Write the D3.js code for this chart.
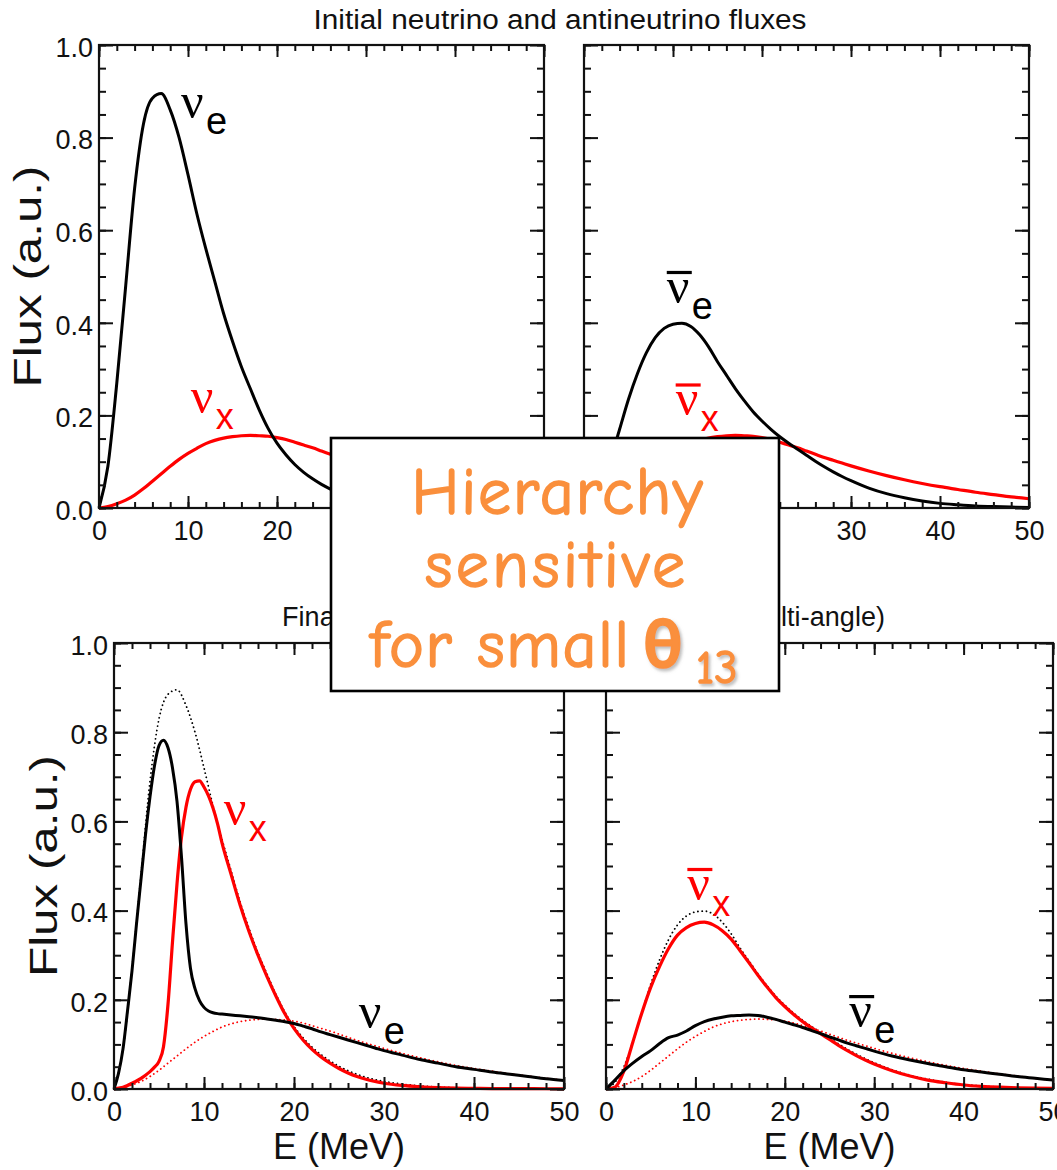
<!DOCTYPE html>
<html>
<head>
<meta charset="utf-8">
<script src="https://cdn.jsdelivr.net/npm/d3@7"></script>
<style>
  html, body { margin: 0; padding: 0; background: #fff; }
  svg { display: block; }
</style>
</head>
<body>
<script>
// Energy grids (MeV)
const energyCoarse = [0,1,2,3,4,5,6,7,8,9,10,11,12,13,14,15,16,17,18,19,20,21,22,23,24,25,26,27,28,29,30,32,34,36,38,40,42,44,46,48,50];
const energyFine = [0,0.5,1,1.5,2,2.5,3,3.5,4,4.5,5,5.5,6,6.5,7,7.5,8,8.5,9,9.5,10,10.5,11,11.5,12,13,14,15,16,17,18,19,20,21,22,23,24,25,26,27,28,29,30,32,34,36,38,40,42,44,46,48,50];

// Initial fluxes (arbitrary units), on energyCoarse
const initNuE = [0,0.09,0.27,0.48,0.69,0.83,0.885,0.895,0.86,0.80,0.72,0.635,0.56,0.49,0.42,0.36,0.305,0.258,0.212,0.172,0.14,0.115,0.094,0.077,0.063,0.051,0.041,0.033,0.026,0.021,0.017,0.011,0.007,0.0045,0.003,0.002,0.0012,0.0008,0.0005,0.0003,0.0002];
const initNuX = [0,0.003,0.009,0.017,0.028,0.042,0.058,0.074,0.09,0.105,0.118,0.129,0.139,0.146,0.151,0.154,0.156,0.157,0.156,0.155,0.152,0.148,0.142,0.136,0.13,0.123,0.116,0.109,0.103,0.097,0.091,0.08,0.07,0.061,0.053,0.046,0.04,0.034,0.029,0.024,0.02];
const initAntiNuE = [0,0.015,0.05,0.105,0.17,0.235,0.29,0.335,0.368,0.388,0.397,0.399,0.392,0.374,0.348,0.316,0.287,0.258,0.232,0.208,0.188,0.17,0.154,0.14,0.127,0.114,0.101,0.089,0.078,0.068,0.059,0.043,0.031,0.022,0.015,0.01,0.007,0.0045,0.003,0.002,0.0013];

// Final neutrino fluxes, on energyFine
const finalNuE = [0,0.035,0.09,0.175,0.265,0.37,0.47,0.57,0.655,0.725,0.77,0.782,0.765,0.72,0.645,0.52,0.37,0.27,0.225,0.198,0.183,0.175,0.171,0.169,0.168,0.166,0.164,0.162,0.16,0.157,0.154,0.151,0.147,0.141,0.135,0.128,0.122,0.116,0.11,0.104,0.098,0.092,0.086,0.076,0.066,0.058,0.05,0.044,0.038,0.033,0.028,0.023,0.019];
const finalNuX = [0,0.002,0.004,0.008,0.013,0.018,0.024,0.031,0.039,0.049,0.062,0.095,0.19,0.33,0.46,0.565,0.632,0.672,0.689,0.691,0.677,0.657,0.63,0.595,0.552,0.482,0.413,0.353,0.3,0.252,0.208,0.168,0.136,0.11,0.089,0.072,0.058,0.046,0.036,0.028,0.022,0.017,0.013,0.008,0.005,0.003,0.002,0.0015,0.001,0.001,0.0008,0.0006,0.0005];

// Final antineutrino fluxes, on energyCoarse
const finalAntiNuX = [0,0.004,0.04,0.105,0.17,0.228,0.275,0.315,0.345,0.362,0.371,0.374,0.368,0.355,0.336,0.31,0.283,0.255,0.229,0.205,0.185,0.167,0.151,0.137,0.124,0.111,0.098,0.086,0.075,0.065,0.056,0.041,0.029,0.02,0.014,0.009,0.006,0.004,0.0027,0.0018,0.0012];
const finalAntiNuE = [0,0.02,0.041,0.058,0.073,0.086,0.102,0.115,0.121,0.13,0.142,0.151,0.157,0.161,0.164,0.165,0.166,0.165,0.161,0.156,0.15,0.144,0.138,0.131,0.124,0.117,0.11,0.103,0.097,0.091,0.085,0.074,0.065,0.057,0.05,0.043,0.038,0.033,0.028,0.024,0.02];

// Axis ticks
const xMajorTicks = [0,10,20,30,40,50];
const xMinorTicks = d3.range(0, 51, 2);
const yMajorTicks = [0,0.2,0.4,0.6,0.8,1.0];
const yMinorTicks = d3.range(0, 1.0001, 0.05);

const W = 1057, H = 1170;
const RED = "#ff0000";
const INK = "#111";
const SANS = "'Liberation Sans', Arial, Helvetica, sans-serif";

// callout box laid over the middle of the figure
const box = { x: 331, y: 438, w: 448, h: 253 };
const insideBox = (px, py) => px > box.x && px < box.x + box.w && py > box.y && py < box.y + box.h;

const svg = d3.select("body").append("svg")
  .attr("width", W).attr("height", H)
  .attr("viewBox", `0 0 ${W} ${H}`);

svg.append("rect").attr("width", W).attr("height", H).attr("fill", "#fff");

const defs = svg.append("defs");
const shadow = defs.append("filter").attr("id", "softShadow")
  .attr("x", "-20%").attr("y", "-20%").attr("width", "150%").attr("height", "150%");
shadow.append("feDropShadow").attr("dx", 2).attr("dy", 2.5)
  .attr("stdDeviation", 1.5).attr("flood-color", "#888").attr("flood-opacity", 0.55);

const zip = (es, vs) => es.map((E, i) => ({ E, v: vs[i] }));

// Panel frames in page pixels
const panels = {
  tl: { x0: 99,  x1: 544,  y0: 45,  y1: 508,  yLabels: true },
  tr: { x0: 584, x1: 1029, y0: 45,  y1: 508,  yLabels: false },
  bl: { x0: 114, x1: 564,  y0: 643, y1: 1089, yLabels: true },
  br: { x0: 606, x1: 1053, y0: 643, y1: 1089, yLabels: false }
};

const series = {
  tl: [
    { data: zip(energyCoarse, initNuX), color: RED, width: 3.2 },
    { data: zip(energyCoarse, initNuE), color: "#000", width: 3 }
  ],
  tr: [
    { data: zip(energyCoarse, initNuX), color: RED, width: 3.2 },
    { data: zip(energyCoarse, initAntiNuE), color: "#000", width: 3 }
  ],
  bl: [
    { data: zip(energyCoarse, initNuE), color: "#000", width: 1.8, dotted: true },
    { data: zip(energyCoarse, initNuX), color: RED, width: 1.8, dotted: true },
    { data: zip(energyFine, finalNuX), color: RED, width: 3.2 },
    { data: zip(energyFine, finalNuE), color: "#000", width: 3 }
  ],
  br: [
    { data: zip(energyCoarse, initAntiNuE), color: "#000", width: 1.8, dotted: true },
    { data: zip(energyCoarse, initNuX), color: RED, width: 1.8, dotted: true },
    { data: zip(energyCoarse, finalAntiNuX), color: RED, width: 3.2 },
    { data: zip(energyCoarse, finalAntiNuE), color: "#000", width: 3 }
  ]
};

// Flavour labels anchored in data units (E, flux)
const labels = {
  tl: [ { E: 9.2, f: 0.842, sub: "e", color: "#000", bar: false },
        { E: 10.3, f: 0.205, sub: "x", color: RED, bar: false } ],
  tr: [ { E: 9.3, f: 0.443, sub: "e", color: "#000", bar: true },
        { E: 10.3, f: 0.200, sub: "x", color: RED, bar: true } ],
  bl: [ { E: 12.2, f: 0.592, sub: "x", color: RED, bar: false },
        { E: 27.2, f: 0.137, sub: "e", color: "#000", bar: false } ],
  br: [ { E: 9.1, f: 0.424, sub: "x", color: RED, bar: true },
        { E: 27.2, f: 0.139, sub: "e", color: "#000", bar: true } ]
};

Object.entries(panels).forEach(([key, p]) => {
  const x = d3.scaleLinear().domain([0, 50]).range([p.x0, p.x1]);
  const y = d3.scaleLinear().domain([0, 1]).range([p.y1, p.y0]);
  const g = svg.append("g").attr("class", "panel-" + key);

  // curves
  const line = d3.line().x(d => x(d.E)).y(d => y(d.v)).curve(d3.curveMonotoneX);
  series[key].forEach(s => {
    g.append("path")
      .attr("d", line(s.data))
      .attr("fill", "none")
      .attr("stroke", s.color)
      .attr("stroke-width", s.width)
      .attr("stroke-linejoin", "round")
      .attr("stroke-linecap", s.dotted ? "round" : "butt")
      .attr("stroke-dasharray", s.dotted ? "0.1 4.2" : null);
  });

  // ticks (pointing inward on all four sides)
  const axisStyle = sel => {
    sel.select(".domain").remove();
    sel.selectAll(".tick line").attr("stroke", INK).attr("stroke-width", 2);
  };
  const bottomMinor = g.append("g").attr("transform", `translate(0,${p.y1})`)
    .call(d3.axisBottom(x).tickValues(xMinorTicks).tickSize(-6).tickFormat(""));
  axisStyle(bottomMinor);
  const bottomMajor = g.append("g").attr("transform", `translate(0,${p.y1})`)
    .call(d3.axisBottom(x).tickValues(xMajorTicks).tickSize(-12).tickPadding(13).tickFormat(d3.format("d")));
  axisStyle(bottomMajor);
  bottomMajor.selectAll("text")
    .attr("font-size", 27).attr("font-family", SANS).attr("fill", INK);
  // tick labels that sit beneath the callout box are not drawn
  bottomMajor.selectAll(".tick text").filter(d => insideBox(x(d), p.y1 + 22)).remove();

  const topMinor = g.append("g").attr("transform", `translate(0,${p.y0})`)
    .call(d3.axisTop(x).tickValues(xMinorTicks).tickSize(-6).tickFormat(""));
  axisStyle(topMinor);
  const topMajor = g.append("g").attr("transform", `translate(0,${p.y0})`)
    .call(d3.axisTop(x).tickValues(xMajorTicks).tickSize(-12).tickFormat(""));
  axisStyle(topMajor);

  const leftMinor = g.append("g").attr("transform", `translate(${p.x0},0)`)
    .call(d3.axisLeft(y).tickValues(yMinorTicks).tickSize(-7).tickFormat(""));
  axisStyle(leftMinor);
  const leftMajor = g.append("g").attr("transform", `translate(${p.x0},0)`)
    .call(d3.axisLeft(y).tickValues(yMajorTicks).tickSize(-14).tickPadding(6)
      .tickFormat(p.yLabels ? d3.format(".1f") : ""));
  axisStyle(leftMajor);
  leftMajor.selectAll("text")
    .attr("font-size", 27).attr("font-family", SANS).attr("fill", INK).attr("dy", "0.42em");

  const rightMinor = g.append("g").attr("transform", `translate(${p.x1},0)`)
    .call(d3.axisRight(y).tickValues(yMinorTicks).tickSize(-7).tickFormat(""));
  axisStyle(rightMinor);
  const rightMajor = g.append("g").attr("transform", `translate(${p.x1},0)`)
    .call(d3.axisRight(y).tickValues(yMajorTicks).tickSize(-14).tickFormat(""));
  axisStyle(rightMajor);

  // frame
  g.append("rect")
    .attr("x", p.x0).attr("y", p.y0)
    .attr("width", p.x1 - p.x0).attr("height", p.y1 - p.y0)
    .attr("fill", "none").attr("stroke", INK).attr("stroke-width", 2.2);

  // flavour labels
  labels[key].forEach(l => {
    const lx = x(l.E), ly = y(l.f);
    const lg = g.append("g").attr("fill", l.color);
    lg.append("text").attr("x", lx).attr("y", ly)
      .attr("font-family", "'Liberation Serif', 'Times New Roman', serif")
      .attr("font-size", 50).text("ν");
    lg.append("text").attr("x", lx + 25).attr("y", ly + 16)
      .attr("font-family", SANS)
      .attr("font-size", l.sub === "e" ? 38 : 36).text(l.sub);
    if (l.bar) {
      lg.append("rect").attr("x", lx).attr("y", ly - 32)
        .attr("width", 25).attr("height", 3.2);
    }
  });
});

// axis titles
const yTitle = (key, xPos) => {
  const p = panels[key];
  svg.append("text")
    .attr("transform", `translate(${xPos},${(p.y0 + p.y1) / 2}) rotate(-90)`)
    .attr("text-anchor", "middle")
    .attr("font-family", SANS).attr("font-size", 38).attr("fill", INK)
    .attr("textLength", 222).attr("lengthAdjust", "spacingAndGlyphs")
    .text("Flux (a.u.)");
};
yTitle("tl", 41);
yTitle("bl", 57);

["bl", "br"].forEach(key => {
  const p = panels[key];
  svg.append("text")
    .attr("x", (p.x0 + p.x1) / 2).attr("y", 1159)
    .attr("text-anchor", "middle")
    .attr("font-family", SANS).attr("font-size", 36).attr("fill", INK)
    .text("E (MeV)");
});

// row titles
svg.append("text")
  .attr("x", 560).attr("y", 29)
  .attr("text-anchor", "middle")
  .attr("font-family", SANS).attr("font-size", 27).attr("fill", INK)
  .attr("textLength", 493).attr("lengthAdjust", "spacingAndGlyphs")
  .text("Initial neutrino and antineutrino fluxes");

svg.append("text")
  .attr("x", (panels.bl.x0 + panels.br.x1) / 2).attr("y", 626)
  .attr("text-anchor", "middle")
  .attr("font-family", SANS).attr("font-size", 27).attr("fill", INK)
  .attr("textLength", 603)
  .text("Final neutrino and antineutrino fluxes (multi-angle)");

// callout
const ORANGE = "#fa8f3c";
const HAND = "'Comic Sans MS', 'Comic Neue', Lato, 'Open Sans', sans-serif";
svg.append("rect")
  .attr("x", box.x).attr("y", box.y).attr("width", box.w).attr("height", box.h)
  .attr("fill", "#fff").attr("stroke", "#000").attr("stroke-width", 2.6);

const handText = (sel) => sel
  .attr("font-family", HAND)
  .attr("fill", ORANGE)
  .attr("stroke", ORANGE).attr("stroke-width", 1.6).attr("stroke-linejoin", "round");

const cx = box.x + box.w / 2;
svg.append("text").attr("x", cx + 2).attr("y", 514)
  .attr("text-anchor", "middle").attr("font-size", 66)
  .attr("textLength", 291).call(handText).text("Hierarchy");
svg.append("text").attr("x", cx).attr("y", 587)
  .attr("text-anchor", "middle").attr("font-size", 66)
  .attr("textLength", 260).call(handText).text("sensitive");
svg.append("text").attr("x", 370).attr("y", 667)
  .attr("font-size", 66)
  .attr("textLength", 259).call(handText).text("for small");
svg.append("text").attr("x", 643).attr("y", 668)
  .attr("font-size", 66).attr("font-weight", "bold")
  .attr("filter", "url(#softShadow)").call(handText).text("θ");
svg.append("text").attr("x", 696).attr("y", 683)
  .attr("font-size", 46)
  .attr("filter", "url(#softShadow)").call(handText).text("13");
</script>
</body>
</html>
